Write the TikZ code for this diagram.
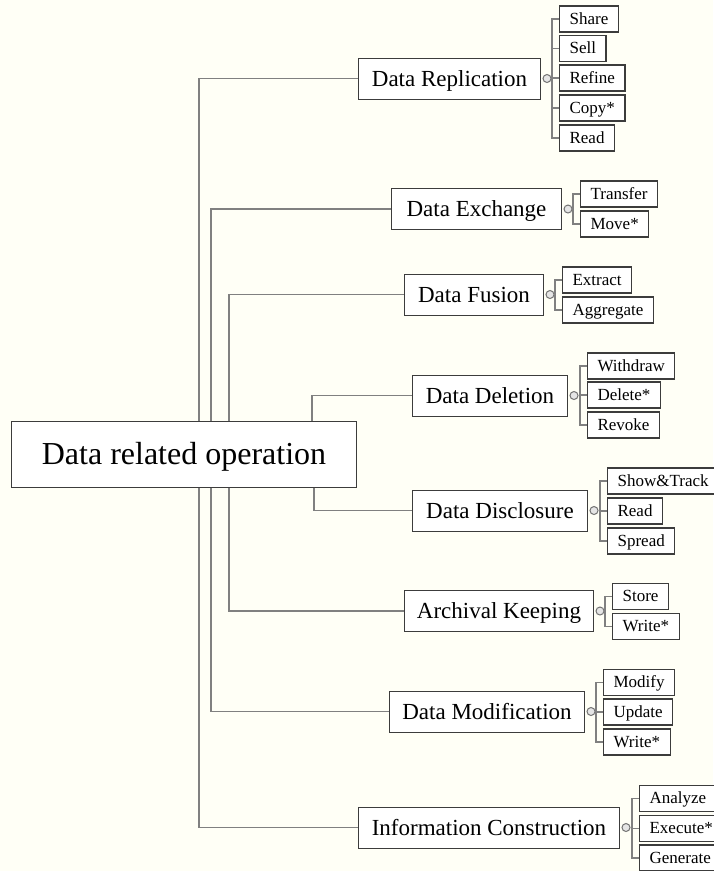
\documentclass[tikz,border=0pt]{standalone}
\usepackage{fontspec}
\setmainfont{Liberation Serif}
\usetikzlibrary{calc}
\definecolor{papercream}{RGB}{255,255,246}
\definecolor{linkgray}{RGB}{128,128,128}
\definecolor{boxgray}{RGB}{60,60,60}
\tikzset{
	rootstyle/.style={rectangle,draw=boxgray,line width=1pt,fill=white,anchor=west,minimum width=345pt,minimum height=66pt,inner sep=0pt,font=\fontsize{32}{38}\selectfont,text height=22pt,text depth=2pt},
	opstyle/.style={rectangle,draw=boxgray,line width=1pt,fill=white,anchor=west,minimum height=41pt,inner sep=0pt,font=\fontsize{23}{28}\selectfont,text height=16pt,text depth=1pt},
	actstyle/.style={rectangle,draw=boxgray,line width=1.2pt,fill=white,anchor=west,minimum height=26pt,inner xsep=10pt,inner ysep=0pt,font=\fontsize{17}{20}\selectfont,text height=12pt,text depth=2pt},
	knobstyle/.style={circle,draw=gray!90!black,line width=1pt,fill=gray!20,inner sep=0pt,minimum size=8pt},
	linkstyle/.style={draw=linkgray,line width=1.2pt}
}
\begin{document}
\begin{tikzpicture}[x=1pt,y=-1pt]
	\fill[papercream] (0,0) rectangle (713,871);
	\useasboundingbox (0,0) rectangle (713,871);
	\coordinate (ta) at (199,0);
	\coordinate (tb) at (211,0);
	\coordinate (tc) at (229,0);
	\coordinate (td) at (312,0);
	\coordinate (te) at (314,0);
	\node[rootstyle] (root) at (11,454) {Data related operation};
	\node[opstyle,minimum width=182pt] (rep) at (358,78.5) {Data Replication};
	\node[opstyle,minimum width=170pt] (exc) at (391,209) {Data Exchange};
	\node[opstyle,minimum width=139pt] (fus) at (404,294.5) {Data Fusion};
	\node[opstyle,minimum width=155pt] (del) at (412,395.5) {Data Deletion};
	\node[opstyle,minimum width=175pt] (dis) at (412,510.5) {Data Disclosure};
	\node[opstyle,minimum width=189pt] (arc) at (404,611) {Archival Keeping};
	\node[opstyle,minimum width=195pt] (mod) at (389,711.5) {Data Modification};
	\node[opstyle,minimum width=261pt] (inf) at (358,827.5) {Information Construction};
	\node[actstyle] (rep1) at (559,19) {Share};
	\node[actstyle] (rep2) at (559,48.5) {Sell};
	\node[actstyle] (rep3) at (559,78) {Refine};
	\node[actstyle] (rep4) at (559,108) {Copy*};
	\node[actstyle] (rep5) at (559,138) {Read};
	\node[actstyle] (exc1) at (580,194) {Transfer};
	\node[actstyle] (exc2) at (580,224) {Move*};
	\node[actstyle] (fus1) at (562,280) {Extract};
	\node[actstyle] (fus2) at (562,310) {Aggregate};
	\node[actstyle] (del1) at (587,366) {Withdraw};
	\node[actstyle] (del2) at (587,395) {Delete*};
	\node[actstyle] (del3) at (587,425) {Revoke};
	\node[actstyle] (dis1) at (607,481) {Show\&Track};
	\node[actstyle] (dis2) at (607,511) {Read};
	\node[actstyle] (dis3) at (607,541) {Spread};
	\node[actstyle] (arc1) at (612,596.5) {Store};
	\node[actstyle] (arc2) at (612,626.5) {Write*};
	\node[actstyle] (mod1) at (603,682.5) {Modify};
	\node[actstyle] (mod2) at (603,712) {Update};
	\node[actstyle] (mod3) at (603,742) {Write*};
	\node[actstyle] (inf1) at (639,798.5) {Analyze};
	\node[actstyle] (inf2) at (639,828.5) {Execute*};
	\node[actstyle] (inf3) at (639,858) {Generate};
	\node[knobstyle] (repk) at ([xshift=6pt]rep.east) {};
	\node[knobstyle] (exck) at ([xshift=6pt]exc.east) {};
	\node[knobstyle] (fusk) at ([xshift=6pt]fus.east) {};
	\node[knobstyle] (delk) at ([xshift=6pt]del.east) {};
	\node[knobstyle] (disk) at ([xshift=6pt]dis.east) {};
	\node[knobstyle] (arck) at ([xshift=6pt]arc.east) {};
	\node[knobstyle] (modk) at ([xshift=6pt]mod.east) {};
	\node[knobstyle] (infk) at ([xshift=6pt]inf.east) {};
	\draw[linkstyle] (root.north -| ta) |- (rep.west);
	\draw[linkstyle] (root.north -| tb) |- (exc.west);
	\draw[linkstyle] (root.north -| tc) |- (fus.west);
	\draw[linkstyle] (root.north -| td) |- (del.west);
	\draw[linkstyle] (root.south -| te) |- (dis.west);
	\draw[linkstyle] (root.south -| tc) |- (arc.west);
	\draw[linkstyle] (root.south -| tb) |- (mod.west);
	\draw[linkstyle] (root.south -| ta) |- (inf.west);
	\draw[linkstyle] (repk.east) -| ([xshift=-7pt]rep1.west) -- (rep1.west);
	\draw[linkstyle] (repk.east) -| ([xshift=-7pt]rep2.west) -- (rep2.west);
	\draw[linkstyle] (repk.east) -| ([xshift=-7pt]rep3.west) -- (rep3.west);
	\draw[linkstyle] (repk.east) -| ([xshift=-7pt]rep4.west) -- (rep4.west);
	\draw[linkstyle] (repk.east) -| ([xshift=-7pt]rep5.west) -- (rep5.west);
	\draw[linkstyle] (exck.east) -| ([xshift=-7pt]exc1.west) -- (exc1.west);
	\draw[linkstyle] (exck.east) -| ([xshift=-7pt]exc2.west) -- (exc2.west);
	\draw[linkstyle] (fusk.east) -| ([xshift=-7pt]fus1.west) -- (fus1.west);
	\draw[linkstyle] (fusk.east) -| ([xshift=-7pt]fus2.west) -- (fus2.west);
	\draw[linkstyle] (delk.east) -| ([xshift=-7pt]del1.west) -- (del1.west);
	\draw[linkstyle] (delk.east) -| ([xshift=-7pt]del2.west) -- (del2.west);
	\draw[linkstyle] (delk.east) -| ([xshift=-7pt]del3.west) -- (del3.west);
	\draw[linkstyle] (disk.east) -| ([xshift=-7pt]dis1.west) -- (dis1.west);
	\draw[linkstyle] (disk.east) -| ([xshift=-7pt]dis2.west) -- (dis2.west);
	\draw[linkstyle] (disk.east) -| ([xshift=-7pt]dis3.west) -- (dis3.west);
	\draw[linkstyle] (arck.east) -| ([xshift=-7pt]arc1.west) -- (arc1.west);
	\draw[linkstyle] (arck.east) -| ([xshift=-7pt]arc2.west) -- (arc2.west);
	\draw[linkstyle] (modk.east) -| ([xshift=-7pt]mod1.west) -- (mod1.west);
	\draw[linkstyle] (modk.east) -| ([xshift=-7pt]mod2.west) -- (mod2.west);
	\draw[linkstyle] (modk.east) -| ([xshift=-7pt]mod3.west) -- (mod3.west);
	\draw[linkstyle] (infk.east) -| ([xshift=-7pt]inf1.west) -- (inf1.west);
	\draw[linkstyle] (infk.east) -| ([xshift=-7pt]inf2.west) -- (inf2.west);
	\draw[linkstyle] (infk.east) -| ([xshift=-7pt]inf3.west) -- (inf3.west);
\end{tikzpicture}
\end{document}
